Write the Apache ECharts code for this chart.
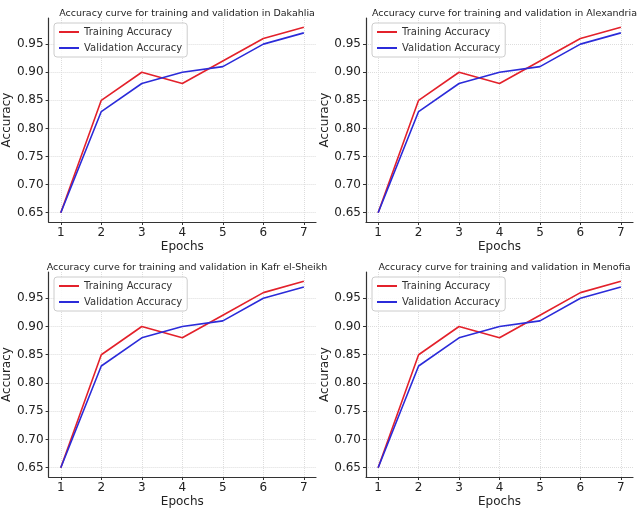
<!DOCTYPE html>
<html><head><meta charset="utf-8">
<script src="https://cdn.jsdelivr.net/npm/echarts@6/dist/echarts.min.js"></script>
<style>html,body{margin:0;background:#fff}#c{width:640px;height:511px}</style>
</head><body><div id="c"></div>
<script>
const EPOCHS = [1, 2, 3, 4, 5, 6, 7];
const TRAIN = [0.65, 0.85, 0.90, 0.88, 0.92, 0.96, 0.98];
const VALID = [0.65, 0.83, 0.88, 0.90, 0.91, 0.95, 0.97];
const Y_TICKS = [0.65, 0.70, 0.75, 0.80, 0.85, 0.90, 0.95];
const REGIONS = ['Dakahlia', 'Alexandria', 'Kafr el-Sheikh', 'Menofia'];

const FONT = '"DejaVu Sans", sans-serif';
const RED = '#e3212b', BLUE = '#2b2bd9';
// 每个面板的绘图区位置
const boxes = [
  { left: 48, top: 18, width: 268, height: 204 },
  { left: 366, top: 18, width: 267, height: 204 },
  { left: 48, top: 272, width: 268, height: 205 },
  { left: 366, top: 272, width: 267, height: 205 },
];

const option = { animation: false, title: [], legend: [], grid: [], xAxis: [], yAxis: [], series: [] };
const axisLine = { show: true, lineStyle: { color: '#333', width: 1.2 } };
const split = { show: true, lineStyle: { color: '#dddddd', type: 'dotted' } };

REGIONS.forEach((r, i) => {
  const b = boxes[i];
  option.grid.push({ ...b });
  option.title.push({
    text: 'Accuracy curve for training and validation in ' + r,
    left: b.left + b.width / 2, top: b.top - 14, textAlign: 'center',
    textStyle: { fontFamily: FONT, fontSize: 9.5, fontWeight: 'normal', color: '#222' },
  });
  option.legend.push({
    data: ['Training Accuracy', 'Validation Accuracy'],
    orient: 'vertical', left: b.left + 6, top: b.top + 5,
    icon: 'rect', itemWidth: 20, itemHeight: 2, itemGap: 6,
    borderColor: '#cccccc', borderWidth: 1, borderRadius: 3, padding: [4, 5],
    backgroundColor: 'rgba(255,255,255,0.85)',
    textStyle: { fontFamily: FONT, fontSize: 10, color: '#333' },
  });
  option.xAxis.push({
    type: 'value', gridIndex: i, min: 0.7, max: 7.3,
    name: 'Epochs', nameLocation: 'middle', nameGap: 19,
    nameTextStyle: { fontFamily: FONT, fontSize: 12, color: '#222' },
    axisLine, axisTick: { show: true, customValues: EPOCHS, length: 3, lineStyle: { color: '#333' } },
    axisLabel: { customValues: EPOCHS, fontFamily: FONT, fontSize: 12, color: '#222', margin: 5 },
    splitLine: split,
  });
  option.yAxis.push({
    type: 'value', gridIndex: i, min: 0.6335, max: 0.9965,
    name: 'Accuracy', nameLocation: 'middle', nameGap: 35,
    nameTextStyle: { fontFamily: FONT, fontSize: 12, color: '#222' },
    axisLine, axisTick: { show: true, customValues: Y_TICKS, length: 3, lineStyle: { color: '#333' } },
    axisLabel: { customValues: Y_TICKS, formatter: v => v.toFixed(2), fontFamily: FONT, fontSize: 12, color: '#222', margin: 5 },
    splitLine: split,
  });
  option.series.push(
    { name: 'Training Accuracy', type: 'line', xAxisIndex: i, yAxisIndex: i, showSymbol: false,
      data: EPOCHS.map((e, k) => [e, TRAIN[k]]), lineStyle: { color: RED, width: 1.6 }, itemStyle: { color: RED } },
    { name: 'Validation Accuracy', type: 'line', xAxisIndex: i, yAxisIndex: i, showSymbol: false,
      data: EPOCHS.map((e, k) => [e, VALID[k]]), lineStyle: { color: BLUE, width: 1.6 }, itemStyle: { color: BLUE } },
  );
});

echarts.init(document.getElementById('c')).setOption(option);
</script></body></html>
